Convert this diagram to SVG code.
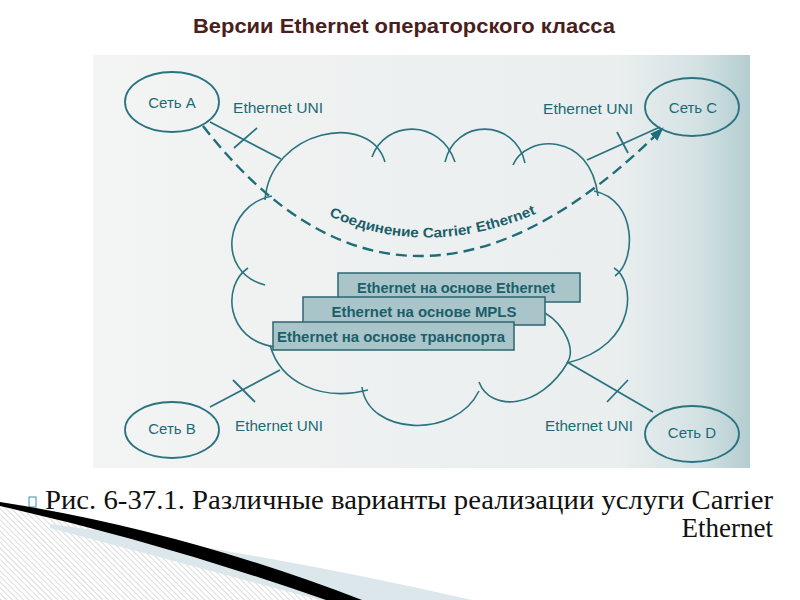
<svg xmlns="http://www.w3.org/2000/svg" width="800" height="600" viewBox="0 0 800 600">
  <style>
    .cl { fill: none; stroke: #2a7380; stroke-width: 1.6; }
    .ln { fill: none; stroke: #2a7380; stroke-width: 1.8; }
    .node { fill: none; stroke: #2a7380; stroke-width: 1.8; }
    .lbl { font-family: "Liberation Sans", Arial, sans-serif; font-size: 15px; fill: #1d6a76; }
    .box { fill: #a9c5ca; stroke: #2c6570; stroke-width: 1.5; }
    .btx { font-family: "Liberation Sans", Arial, sans-serif; font-size: 14.5px; fill: #1b5f6b; font-weight: bold; }
    .cap { font-family: "Liberation Serif", "Times New Roman", serif; font-size: 27px; fill: #111111; }
  </style>
  <defs>
    <linearGradient id="scan" x1="0" y1="0" x2="1" y2="0">
      <stop offset="0" stop-color="#f3f4f4"/>
      <stop offset="0.8" stop-color="#eaeeee"/>
      <stop offset="0.92" stop-color="#d4e2e4"/>
      <stop offset="1" stop-color="#b3cdd1"/>
    </linearGradient>
    <pattern id="hatch" width="4" height="4" patternUnits="userSpaceOnUse" patternTransform="rotate(-45)">
      <rect width="4" height="4" fill="#ffffff"/>
      <line x1="0" y1="0" x2="0" y2="4" stroke="#c9c9c9" stroke-width="1.3"/>
    </pattern>
    <marker id="arr" viewBox="0 0 14 10" refX="13" refY="5" markerWidth="14" markerHeight="10" markerUnits="userSpaceOnUse" orient="auto">
      <path d="M0,0 L14,5 L0,10 z" fill="#1f6d79" stroke="none"/>
    </marker>
    <path id="connPath" d="M325,214 Q425,262 540,212"/>
  </defs>

  <rect width="800" height="600" fill="#ffffff"/>

  <text x="404" y="33" text-anchor="middle" font-family="'Liberation Sans', Arial, sans-serif" font-size="20" font-weight="bold" fill="#4a201b" textLength="422" lengthAdjust="spacingAndGlyphs">Версии Ethernet операторского класса</text>

  <rect x="93" y="55" width="657" height="413" fill="url(#scan)"/>

  <g id="cloud">
    <path class="cl" d="M265,200 C270,130 370,110 385,162"/>
    <path class="cl" d="M372,157 C385,120 440,118 455,162"/>
    <path class="cl" d="M445,162 C455,118 515,118 525,163"/>
    <path class="cl" d="M513,165 C525,135 590,130 598,196"/>
    <path class="cl" d="M594,191 C638,200 636,262 615,276"/>
    <path class="cl" d="M614,268 C635,280 640,345 567,363"/>
    <path class="cl" d="M545,313 C565,325 576,350 567,363"/>
    <path class="cl" d="M479,382 C490,412 540,410 568,362"/>
    <path class="cl" d="M362,387 C368,435 455,440 479,391"/>
    <path class="cl" d="M270,345 C280,382 320,402 368,390"/>
    <path class="cl" d="M248,268 C222,285 225,340 275,347"/>
    <path class="cl" d="M272,196 C225,205 215,272 265,285"/>
  </g>

  <g id="connectors">
    <path class="ln" d="M210,122 L281,159"/>
    <path class="ln" d="M234,148 L257,128"/>
    <path class="ln" d="M660,127 L587,160"/>
    <path class="ln" d="M617,132 L628,153"/>
    <path class="ln" d="M210,407 L280,370"/>
    <path class="ln" d="M233,380 L255,402"/>
    <path class="ln" d="M567,362 L653,412"/>
    <path class="ln" d="M607,402 L628,380"/>
    <path d="M203,126 Q405,385 663,128" fill="none" stroke="#1f6d79" stroke-width="2.4" stroke-dasharray="11,6" marker-end="url(#arr)"/>
    <text font-family="'Liberation Sans', Arial, sans-serif" font-size="14" font-weight="bold" fill="#1b5f6b"><textPath href="#connPath" startOffset="50%" text-anchor="middle" textLength="214" lengthAdjust="spacingAndGlyphs">Соединение Carrier Ethernet</textPath></text>
  </g>

  <g id="stack">
    <g id="box-ethernet">
      <rect class="box" x="338" y="273" width="242" height="29"/>
      <text class="btx" x="456" y="293" text-anchor="middle" textLength="198" lengthAdjust="spacingAndGlyphs">Ethernet на основе Ethernet</text>
    </g>
    <g id="box-mpls">
      <rect class="box" x="303" y="297" width="242" height="28"/>
      <text class="btx" x="424" y="317" text-anchor="middle" textLength="185" lengthAdjust="spacingAndGlyphs">Ethernet на основе MPLS</text>
    </g>
    <g id="box-transport">
      <rect class="box" x="273" y="322" width="241" height="28"/>
      <text class="btx" x="391" y="342" text-anchor="middle" textLength="228" lengthAdjust="spacingAndGlyphs">Ethernet на основе транспорта</text>
    </g>
  </g>

  <g id="net-a">
    <ellipse class="node" cx="172" cy="102" rx="47" ry="30"/>
    <text class="lbl" x="172" y="108" text-anchor="middle">Сеть A</text>
  </g>
  <g id="net-c">
    <ellipse class="node" cx="692" cy="107" rx="47" ry="29"/>
    <text class="lbl" x="693" y="113" text-anchor="middle">Сеть C</text>
  </g>
  <g id="net-b">
    <ellipse class="node" cx="172" cy="430" rx="47" ry="28"/>
    <text class="lbl" x="172" y="434" text-anchor="middle">Сеть B</text>
  </g>
  <g id="net-d">
    <ellipse class="node" cx="692" cy="434" rx="47" ry="28"/>
    <text class="lbl" x="692" y="438" text-anchor="middle">Сеть D</text>
  </g>

  <g id="uni-labels">
    <text class="lbl" x="233" y="113" textLength="90" lengthAdjust="spacingAndGlyphs">Ethernet UNI</text>
    <text class="lbl" x="543" y="114" textLength="90" lengthAdjust="spacingAndGlyphs">Ethernet UNI</text>
    <text class="lbl" x="235" y="431" textLength="88" lengthAdjust="spacingAndGlyphs">Ethernet UNI</text>
    <text class="lbl" x="545" y="431" textLength="88" lengthAdjust="spacingAndGlyphs">Ethernet UNI</text>
  </g>

  <g id="caption">
    <rect x="29" y="497" width="7" height="10" fill="none" stroke="#3d8fa6" stroke-width="1"/>
    <text class="cap" x="45" y="509" textLength="728" lengthAdjust="spacingAndGlyphs">Рис. 6-37.1. Различные варианты реализации услуги Carrier</text>
    <text class="cap" x="773" y="537" text-anchor="end">Ethernet</text>
  </g>

  <g id="decoration">
    <path d="M0,506 Q160,542 330,600 L0,600 Z" fill="url(#hatch)"/>
    <path d="M50,524 Q260,552 472,600 L320,600 L50,528 Z" fill="#dbe7eb"/>
    <path d="M0,502 Q180,530 362,600 L326,600 Q160,542 0,506 Z" fill="#000000"/>
  </g>
</svg>
